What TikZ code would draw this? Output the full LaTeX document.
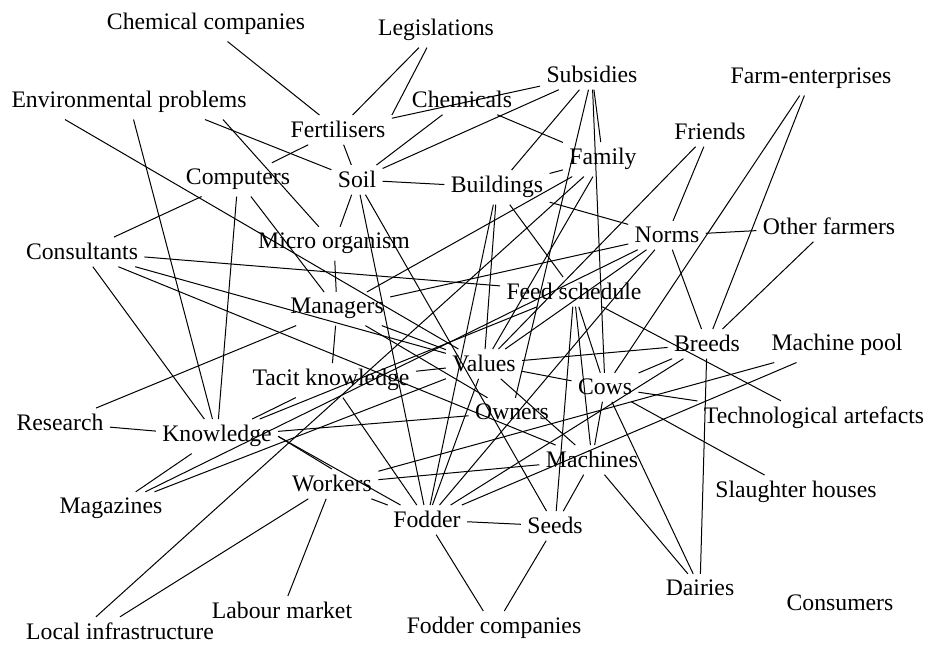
\documentclass[tikz,border=0pt]{standalone}
\usepackage{fontspec}
\setmainfont{Liberation Serif}
\usepackage{tikz}

\begin{document}
\begin{tikzpicture}[x=0.5pt, y=-0.5pt, line width=0.5pt,
    every node/.style={anchor=base, inner sep=3pt, font=\fontsize{11.85}{14}\selectfont}]
    \useasboundingbox (0,0) rectangle (928,646);

    \node (chemco) at (206,30) {Chemical companies};
    \node (legis) at (436,36) {Legislations};
    \node (envprob) at (129,108) {Environmental problems};
    \node (subsid) at (592,83) {Subsidies};
    \node (farment) at (811,84) {Farm-enterprises};
    \node (chemicals) at (462,108) {Chemicals};
    \node (fert) at (338,138) {Fertilisers};
    \node (friends) at (710,140) {Friends};
    \node (family) at (603,165) {Family};
    \node (computers) at (238,185) {Computers};
    \node (soil) at (357,188) {Soil};
    \node (buildings) at (497,193) {Buildings};
    \node (micro) at (334,249) {Micro organism};
    \node (norms) at (667,243) {Norms};
    \node (otherfarm) at (829,235) {Other farmers};
    \node (consult) at (82,260) {Consultants};
    \node (feed) at (574,300) {Feed schedule};
    \node (managers) at (337,314) {Managers};
    \node (breeds) at (707,352) {Breeds};
    \node (machpool) at (837,351) {Machine pool};
    \node (values) at (484,372) {Values};
    \node (tacit) at (331,386) {Tacit knowledge};
    \node (cows) at (605,395) {Cows};
    \node (owners) at (512,420) {Owners};
    \node (techart) at (814,424) {Technological artefacts};
    \node (research) at (60,431) {Research};
    \node (knowledge) at (217,442) {Knowledge};
    \node (machines) at (592,468) {Machines};
    \node (workers) at (332,492) {Workers};
    \node (slaughter) at (796,498) {Slaughter houses};
    \node (magazines) at (111,514) {Magazines};
    \node (fodder) at (427,528) {Fodder};
    \node (seeds) at (555,534) {Seeds};
    \node (dairies) at (700,596) {Dairies};
    \node (consumers) at (840,611) {Consumers};
    \node (labour) at (282,619) {Labour market};
    \node (localinf) at (120,640) {Local infrastructure};
    \node (foddercomp) at (494,634) {Fodder companies};

    \draw (chemco) -- (fert);
    \draw (legis) -- (fert);
    \draw (legis) -- (fert.north east);
    \draw ([xshift=30pt]envprob.south west) -- (values);
    \draw (envprob) -- (knowledge);
    \draw ([xshift=-24pt]envprob.south east) -- (soil);
    \draw ([xshift=-15pt]envprob.south east) -- (micro);
    \draw (computers) -- (consult);
    \draw (computers) -- (knowledge);
    \draw (computers) -- (managers);
    \draw (computers) -- (fert);
    \draw (fert) -- (soil);
    \draw (fert) -- (subsid);
    \draw (chemicals) -- (soil);
    \draw (chemicals) -- (family);
    \draw (subsid) -- (soil);
    \draw (subsid) -- (buildings);
    \draw (subsid) -- (family);
    \draw (subsid) -- (owners);
    \draw (subsid) -- (cows);
    \draw (soil) -- (buildings);
    \draw (soil) -- (micro);
    \draw (soil) -- (fodder);
    \draw (soil) -- (seeds);
    \draw (family) -- (buildings);
    \draw (family) -- (managers);
    \draw (family) -- ([xshift=-12pt]localinf.north);
    \draw (family) -- (values);
    \draw (buildings) -- (values);
    \draw (buildings) -- (fodder);
    \draw (buildings) -- (feed);
    \draw (buildings) -- (norms);
    \draw (consult) -- (feed);
    \draw (consult) -- (values);
    \draw (consult) -- (machines);
    \draw (consult) -- (knowledge);
    \draw (micro) -- (managers);
    \draw (managers) -- (norms);
    \draw (managers) -- (values);
    \draw (managers) -- (tacit);
    \draw (managers) -- (research);
    \draw (managers) -- (owners);
    \draw (tacit) -- (fodder);
    \draw (tacit) -- (values);
    \draw (tacit) -- (knowledge);
    \draw (values) -- (fodder);
    \draw (values) -- (breeds);
    \draw (values) -- (cows);
    \draw (values) -- (machines);
    \draw (friends) -- (norms);
    \draw (friends) -- (values);
    \draw (farment) -- (cows);
    \draw (farment) -- (breeds);
    \draw (norms) -- (otherfarm);
    \draw (norms) -- (breeds);
    \draw (norms) -- (values);
    \draw (norms) -- (fodder);
    \draw (otherfarm) -- (breeds);
    \draw (magazines) -- (norms);
    \draw (magazines) -- (values);
    \draw (magazines) -- (knowledge);
    \draw (knowledge) -- (feed);
    \draw (knowledge) -- (research);
    \draw (knowledge) -- (owners);
    \draw (knowledge.east) -- (workers.north);
    \draw (knowledge.east) -- (fodder);
    \draw (feed) -- (seeds);
    \draw (feed) -- (machines);
    \draw (feed) -- (cows);
    \draw (feed) -- (techart);
    \draw (breeds) -- (cows);
    \draw (breeds) -- (dairies);
    \draw (breeds) -- (fodder);
    \draw (cows) -- (techart);
    \draw (cows) -- (slaughter);
    \draw (cows) -- (dairies);
    \draw (cows) -- (machines);
    \draw (machpool) -- (workers);
    \draw (machpool) -- (fodder);
    \draw (workers) -- (machines);
    \draw (workers) -- (fodder);
    \draw (workers) -- (labour);
    \draw (workers) -- (localinf.north);
    \draw (machines) -- (dairies);
    \draw (machines) -- (seeds);
    \draw (fodder) -- (seeds);
    \draw (fodder) -- (foddercomp);
    \draw (seeds) -- (foddercomp);
\end{tikzpicture}
\end{document}
